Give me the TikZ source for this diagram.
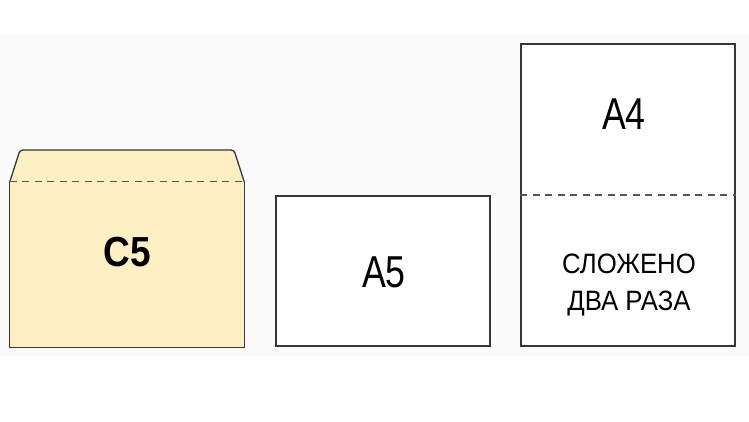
\documentclass[tikz,border=0pt]{standalone}
\usepackage{fontspec}
\setmainfont{Liberation Sans}
\newfontfamily\narrowsans[FakeStretch=0.8]{Liberation Sans}
\newfontfamily\envsans[FakeStretch=0.88]{Liberation Sans}
\newfontfamily\notesans[FakeStretch=0.92]{Liberation Sans}
\usetikzlibrary{positioning}
\definecolor{envfill}{RGB}{252,239,196}
\definecolor{edgegray}{RGB}{55,55,55}
\definecolor{foldgray}{RGB}{85,85,85}
\definecolor{bandgray}{RGB}{250,250,250}

\begin{document}
\begin{tikzpicture}[
    x=1pt, y=-1pt,
    sheet/.style={draw=edgegray, line width=1.3pt, fill=white, inner sep=0pt},
    outline/.style={draw=edgegray, line width=1.3pt, line join=round},
    fold/.style={draw=foldgray, line width=1.3pt, dash pattern=on 7pt off 5.5pt},
    bigtxt/.style={font=\narrowsans\fontsize{44.7}{50}\selectfont, inner sep=0pt, anchor=base},
  ]

  % ── Frame ────────────────────────────────────────────────────────────────
  \useasboundingbox (0,0) rectangle (749,421);
  \fill[bandgray] (0,35) rectangle (749,356);

  % ── Nodes ────────────────────────────────────────────────────────────────

  % Envelope C5
  \node[fill=envfill, inner sep=0pt, minimum width=234pt, minimum height=165pt] (C5body) at (127,264.5) {};
  \coordinate (flapL) at (20,150);
  \coordinate (flapR) at (234,150);
  \node[font=\envsans\bfseries\fontsize{42}{48}\selectfont, inner sep=0pt, anchor=base] (C5) at (127,266) {C5};

  % Sheet A5
  \node[sheet, minimum width=214pt, minimum height=150pt] (A5box) at (383,271) {};
  \node[bigtxt] (A5) at (384,287) {A5};

  % Sheet A4
  \node[sheet, minimum width=214pt, minimum height=302pt] (A4box) at (628,195) {};
  \node[bigtxt] (A4) at (624,129) {A4};
  \node[font=\notesans\fontsize{28}{37}\selectfont, align=center, inner sep=0pt, anchor=base] (folded) at (629,310) {СЛОЖЕНО\\ДВА РАЗА};

  % ── Lines ────────────────────────────────────────────────────────────────

  % envelope: sides, bottom and flap
  \draw[outline] (C5body.north west) -- (C5body.south west) -- (C5body.south east) -- (C5body.north east);
  \filldraw[outline, fill=envfill, rounded corners=3pt]
    (C5body.north west) -- (flapL) -- (flapR) -- (C5body.north east);
  \draw[fold] (C5body.north west) -- (C5body.north east);

  % A4 folded in half
  \draw[fold] (A4box.west) -- (A4box.east);

\end{tikzpicture}
\end{document}
